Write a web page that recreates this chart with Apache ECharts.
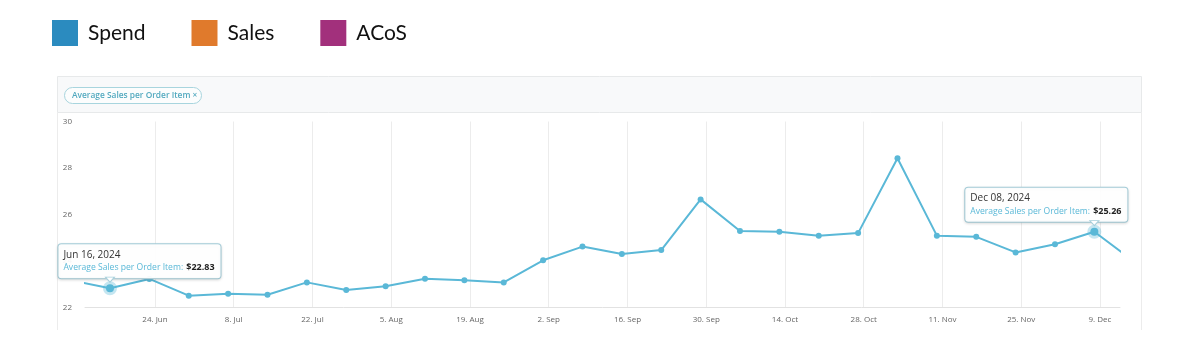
<!DOCTYPE html>
<html><head><meta charset="utf-8">
<script src="https://cdn.jsdelivr.net/npm/echarts@6/dist/echarts.min.js"></script>
<style>html,body{margin:0;padding:0;background:#fff}#c{width:1200px;height:363px}</style>
</head><body><div id="c"></div><script>
// ---- data ----
const weekDates = ['2024-06-09','2024-06-16','2024-06-23','2024-06-30','2024-07-07','2024-07-14','2024-07-21','2024-07-28',
  '2024-08-04','2024-08-11','2024-08-18','2024-08-25','2024-09-01','2024-09-08','2024-09-15','2024-09-22','2024-09-29',
  '2024-10-06','2024-10-13','2024-10-20','2024-10-27','2024-11-03','2024-11-10','2024-11-17','2024-11-24','2024-12-01',
  '2024-12-08','2024-12-15'];
const avgSalesPerItem = [23.17,22.83,23.23,22.51,22.59,22.55,23.08,22.75,
  22.91,23.24,23.17,23.08,24.03,24.62,24.30,24.47,26.65,
  25.29,25.26,25.09,25.20,28.42,25.09,25.04,24.37,24.72,
  25.26,23.98];
const xTickDates = ['2024-06-24','2024-07-08','2024-07-22','2024-08-05','2024-08-19','2024-09-02','2024-09-16',
  '2024-09-30','2024-10-14','2024-10-28','2024-11-11','2024-11-25','2024-12-09'];
const yTicks = [22,24,26,28,30];
const monthNames = ['Jan','Feb','Mar','Apr','May','Jun','Jul','Aug','Sep','Oct','Nov','Dec'];
const legendNames = ['Spend','Sales','ACoS'];
const legendColors = ['#2B8BBF','#E07A2C','#A2307C'];
const seriesName = 'Average Sales per Order Item';
const calloutDates = ['2024-06-16','2024-12-08'];

// ---- build ----
const DAY = 86400000;
const BASE = Date.UTC(2024, 0, 1);
const dayNum = s => { const [y, m, d] = s.split('-').map(Number); return Math.round((Date.UTC(y, m - 1, d) - BASE) / DAY); };
const dayDate = n => new Date(BASE + Math.round(n) * DAY);
const pad2 = n => (n < 10 ? '0' : '') + n;
const fmtLong = n => { const d = dayDate(n); return monthNames[d.getUTCMonth()] + ' ' + pad2(d.getUTCDate()) + ', ' + d.getUTCFullYear(); };
const fmtTick = n => { const d = dayDate(n); return d.getUTCDate() + '. ' + monthNames[d.getUTCMonth()]; };
const LINE = '#5ab8d7';
const calloutOffsets = {'2024-06-16': 29.5, '2024-12-08': -48};
const tickVals = xTickDates.map(dayNum);
const firstTick = tickVals[0];

const lineData = weekDates.map((d, i) => {
  const item = { value: [dayNum(d), avgSalesPerItem[i]] };
  if (calloutDates.includes(d)) {
    item.symbolSize = 8;
    item.itemStyle = { color: LINE, borderColor: 'rgba(90,184,215,0.35)', borderWidth: 6 };
    item.label = {
      show: true, position: 'top', distance: 3, offset: [calloutOffsets[d], 0], align: 'center',
      formatter: '{d|' + fmtLong(dayNum(d)) + '}\n{n|' + seriesName + ':} {v|$' + avgSalesPerItem[i].toFixed(2) + '}',
      backgroundColor: 'rgba(255,255,255,0.94)', borderColor: '#a6cfdb', borderWidth: 1, borderRadius: 3,
      padding: [4, 6, 4, 5], shadowColor: 'rgba(0,0,0,0.12)', shadowBlur: 3, shadowOffsetY: 1,
      rich: {
        d: { fontSize: 10, color: '#333', fontFamily: 'Open Sans', lineHeight: 13, align: 'left' },
        n: { fontSize: 8.6, color: '#5ab8d7', fontFamily: 'Open Sans', lineHeight: 13, align: 'left' },
        v: { fontSize: 9, color: '#222', fontWeight: 'bold', fontFamily: 'Open Sans', lineHeight: 13, align: 'left' }
      }
    };
  }
  return item;
});

const caretPoints = calloutDates.map(d => ({ coord: [dayNum(d), avgSalesPerItem[weekDates.indexOf(d)]] }));

const series = legendNames.map((n, i) => ({ name: n, type: 'bar', data: [], itemStyle: { color: legendColors[i] } }));
series.push({
  name: seriesName, type: 'line', data: lineData, clip: true,
  symbol: 'circle', symbolSize: 6, showSymbol: true,
  lineStyle: { color: LINE, width: 2 }, itemStyle: { color: LINE },
  emphasis: { disabled: true }, z: 3,
  markPoint: {
    symbol: 'triangle', symbolSize: [9, 5], symbolRotate: 180, symbolOffset: [0, -8.5],
    itemStyle: { color: '#fff', borderColor: '#a6cfdb', borderWidth: 1 },
    label: { show: false }, data: caretPoints, silent: true, z: 10
  }
});

const chart = echarts.init(document.getElementById('c'), null, { renderer: 'canvas' });
chart.setOption({
  animation: false,
  backgroundColor: '#fff',
  textStyle: { fontFamily: 'Open Sans' },
  legend: {
    data: legendNames, left: 52, top: 20, padding: 0, icon: 'rect', itemWidth: 26, itemHeight: 26, itemGap: 46,
    selectedMode: false,
    textStyle: { fontSize: 21, color: '#111', fontFamily: 'Lato', padding: [0, 0, 0, 5] }
  },
  graphic: [
    { type: 'rect', silent: true, z: -10, shape: { x: 57.5, y: 76.5, width: 1084, height: 36 }, style: { fill: '#f8f9fa', stroke: '#e7e9ea', lineWidth: 1 } },
    { type: 'line', silent: true, z: -10, shape: { x1: 57.5, y1: 112.5, x2: 57.5, y2: 330 }, style: { stroke: '#ececec', lineWidth: 1 } },
    { type: 'line', silent: true, z: -10, shape: { x1: 1141.5, y1: 112.5, x2: 1141.5, y2: 330 }, style: { stroke: '#ececec', lineWidth: 1 } },
    { type: 'rect', silent: true, z: -5, shape: { x: 64.5, y: 87.5, width: 137, height: 16, r: 8 }, style: { fill: '#fcfdfd', stroke: '#a8d5de', lineWidth: 1 } },
    { type: 'text', silent: true, z: -4, x: 72, y: 95.5, style: { text: seriesName + ' \u00d7', fill: '#52a9bf', font: '600 8.4px "Open Sans"', verticalAlign: 'middle' } }
  ],
  grid: { left: 85, right: 80, top: 121.5, bottom: 55.5, containLabel: false },
  xAxis: {
    type: 'value', min: firstTick - 12.44, max: tickVals[tickVals.length - 1] + 3.56,
    axisLine: { show: true, lineStyle: { color: '#e2e2e2', width: 1 } },
    axisTick: { show: false, customValues: tickVals },
    axisLabel: { customValues: tickVals, color: '#666', fontSize: 8, margin: 8, fontFamily: 'Open Sans', formatter: fmtTick },
    splitLine: { show: true, lineStyle: { color: '#ececec', width: 1 } }
  },
  yAxis: {
    type: 'value', min: yTicks[0], max: yTicks[yTicks.length - 1], interval: 2,
    axisLine: { show: false }, axisTick: { show: false },
    axisLabel: { color: '#666', fontSize: 8, margin: 13, fontFamily: 'Open Sans' },
    splitLine: { show: false }
  },
  series: series
});
</script></body></html>
